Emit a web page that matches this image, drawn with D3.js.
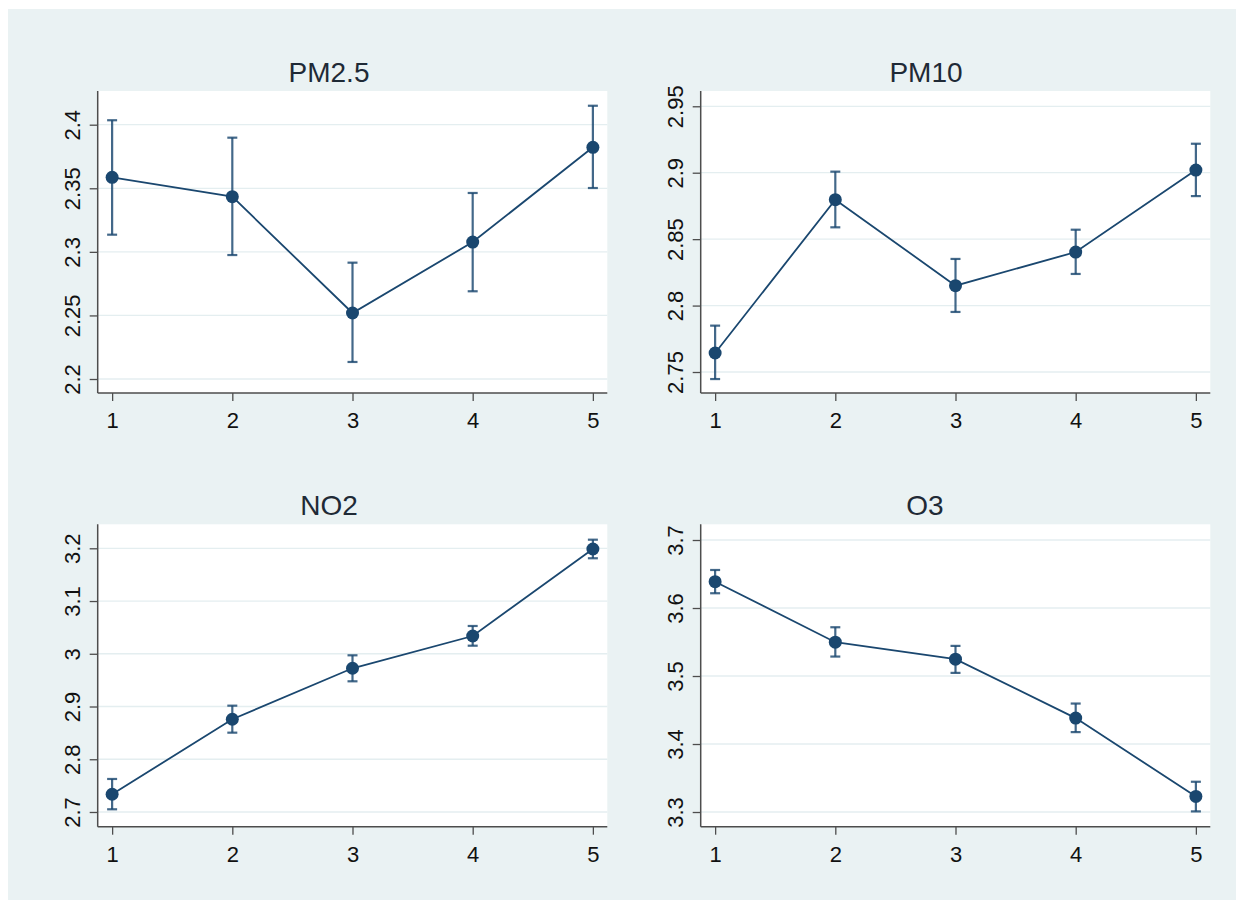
<!DOCTYPE html>
<html>
<head>
<meta charset="utf-8">
<script src="https://cdn.jsdelivr.net/npm/d3@7"></script>
<style>
  html, body { margin: 0; padding: 0; background: #ffffff; }
  svg { display: block; font-family: "Liberation Sans", Arial, sans-serif; }
</style>
</head>
<body>
<svg id="chart" width="1244" height="908"></svg>
<script>
// ---------- data ----------
const categories = [1, 2, 3, 4, 5];
const xTicks = [1, 2, 3, 4, 5];

const titles = ["PM2.5", "PM10", "NO2", "O3"];

const pm25   = [2.3586, 2.3434, 2.2519, 2.3077, 2.3822];
const pm25Lo = [2.3135, 2.2975, 2.2134, 2.2690, 2.3502];
const pm25Hi = [2.4035, 2.3898, 2.2915, 2.3463, 2.4149];
const pm25Ticks = [2.2, 2.25, 2.3, 2.35, 2.4];

const pm10   = [2.7643, 2.8797, 2.8150, 2.8403, 2.9020];
const pm10Lo = [2.7447, 2.8589, 2.7952, 2.8238, 2.8824];
const pm10Hi = [2.7849, 2.9008, 2.8351, 2.8571, 2.9218];
const pm10Ticks = [2.75, 2.8, 2.85, 2.9, 2.95];

const no2   = [2.7336, 2.8758, 2.9725, 3.0337, 3.1987];
const no2Lo = [2.7051, 2.8504, 2.9478, 3.0153, 3.1811];
const no2Hi = [2.7626, 2.9016, 2.9971, 3.0527, 3.2163];
const no2Ticks = [2.7, 2.8, 2.9, 3.0, 3.1, 3.2];

const o3   = [3.6387, 3.5497, 3.5247, 3.4381, 3.3229];
const o3Lo = [3.6217, 3.5286, 3.5046, 3.4175, 3.3009];
const o3Hi = [3.6559, 3.5717, 3.5443, 3.4595, 3.3445];
const o3Ticks = [3.3, 3.4, 3.5, 3.6, 3.7];

// ---------- layout ----------
const panels = [
  { title: titles[0], mean: pm25, lo: pm25Lo, hi: pm25Hi, ticks: pm25Ticks,
    x0: 97.7, x1: 607.3, y0: 393, y1: 91, dom: [2.189, 2.4265], tx: 329 },
  { title: titles[1], mean: pm10, lo: pm10Lo, hi: pm10Hi, ticks: pm10Ticks,
    x0: 700.7, x1: 1210.3, y0: 393, y1: 91, dom: [2.7342, 2.9615], tx: 926 },
  { title: titles[2], mean: no2, lo: no2Lo, hi: no2Hi, ticks: no2Ticks,
    x0: 97.7, x1: 607.3, y0: 826.7, y1: 524.3, dom: [2.6721, 3.2455], tx: 329 },
  { title: titles[3], mean: o3, lo: o3Lo, hi: o3Hi, ticks: o3Ticks,
    x0: 700.7, x1: 1210.3, y0: 826.7, y1: 524.3, dom: [3.2784, 3.7231], tx: 925 }
];

const navy = "#1a476f";
const bg = "#eaf2f3";
const axisCol = "#4d4d4d";

const svg = d3.select("#chart");
svg.append("rect").attr("x", 8).attr("y", 9).attr("width", 1228).attr("height", 891)
  .attr("fill", bg);

panels.forEach(p => {
  const x = d3.scaleLinear().domain([0.88, 5.12]).range([p.x0, p.x1]);
  const y = d3.scaleLinear().domain(p.dom).range([p.y0, p.y1]);
  const g = svg.append("g");

  // plot region
  g.append("rect").attr("x", p.x0).attr("y", p.y1)
    .attr("width", p.x1 - p.x0).attr("height", p.y0 - p.y1).attr("fill", "#ffffff");

  // gridlines
  g.selectAll(".grid").data(p.ticks).enter().append("line")
    .attr("x1", p.x0).attr("x2", p.x1)
    .attr("y1", d => y(d)).attr("y2", d => y(d))
    .attr("stroke", "#e4eef0").attr("stroke-width", 1.3);

  // y axis
  const yAxis = d3.axisLeft(y).tickValues(p.ticks).tickSize(8).tickSizeOuter(0)
    .tickFormat(d => String(+d.toFixed(2)));
  const ya = g.append("g").attr("transform", `translate(${p.x0},0)`).call(yAxis);
  ya.select(".domain").attr("stroke", axisCol).attr("stroke-width", 1.5)
    .attr("d", `M0,${p.y0}V${p.y1}`);
  ya.selectAll(".tick line").attr("stroke", axisCol).attr("stroke-width", 1.3);
  ya.selectAll(".tick text")
    .attr("x", null).attr("dy", null)
    .attr("transform", "translate(-18,0) rotate(-90)")
    .attr("text-anchor", "middle")
    .attr("fill", "#111").attr("font-size", 22)
    .style("font-family", "'Liberation Sans', Arial, sans-serif");

  // x axis
  const xAxis = d3.axisBottom(x).tickValues(xTicks).tickSize(8).tickSizeOuter(0)
    .tickFormat(d3.format("d"));
  const xa = g.append("g").attr("transform", `translate(0,${p.y0})`).call(xAxis);
  xa.select(".domain").attr("stroke", axisCol).attr("stroke-width", 1.5)
    .attr("d", `M${p.x0},0H${p.x1}`);
  xa.selectAll(".tick line").attr("stroke", axisCol).attr("stroke-width", 1.3);
  xa.selectAll(".tick text")
    .attr("y", 35).attr("dy", null)
    .attr("fill", "#111").attr("font-size", 22)
    .style("font-family", "'Liberation Sans', Arial, sans-serif");

  // title
  g.append("text").attr("x", p.tx).attr("y", p.y1 - 9.5)
    .attr("text-anchor", "middle").attr("font-size", 28).attr("fill", "#1f2a36")
    .text(p.title);

  // CI bars
  const ci = g.append("g").attr("stroke", navy).attr("stroke-opacity", 0.82)
    .attr("stroke-width", 2.2).attr("fill", "none");
  categories.forEach((c, i) => {
    const cx = x(c);
    ci.append("line").attr("x1", cx).attr("x2", cx)
      .attr("y1", y(p.lo[i])).attr("y2", y(p.hi[i]));
    ci.append("line").attr("x1", cx - 5).attr("x2", cx + 5)
      .attr("y1", y(p.lo[i])).attr("y2", y(p.lo[i]));
    ci.append("line").attr("x1", cx - 5).attr("x2", cx + 5)
      .attr("y1", y(p.hi[i])).attr("y2", y(p.hi[i]));
  });

  // connecting line
  const line = d3.line().x((d, i) => x(categories[i])).y(d => y(d));
  g.append("path").datum(p.mean).attr("d", line)
    .attr("fill", "none").attr("stroke", navy).attr("stroke-width", 1.8);

  // markers
  g.selectAll(".pt").data(p.mean).enter().append("circle")
    .attr("cx", (d, i) => x(categories[i])).attr("cy", d => y(d))
    .attr("r", 6.5).attr("fill", navy);
});
</script>
</body>
</html>
